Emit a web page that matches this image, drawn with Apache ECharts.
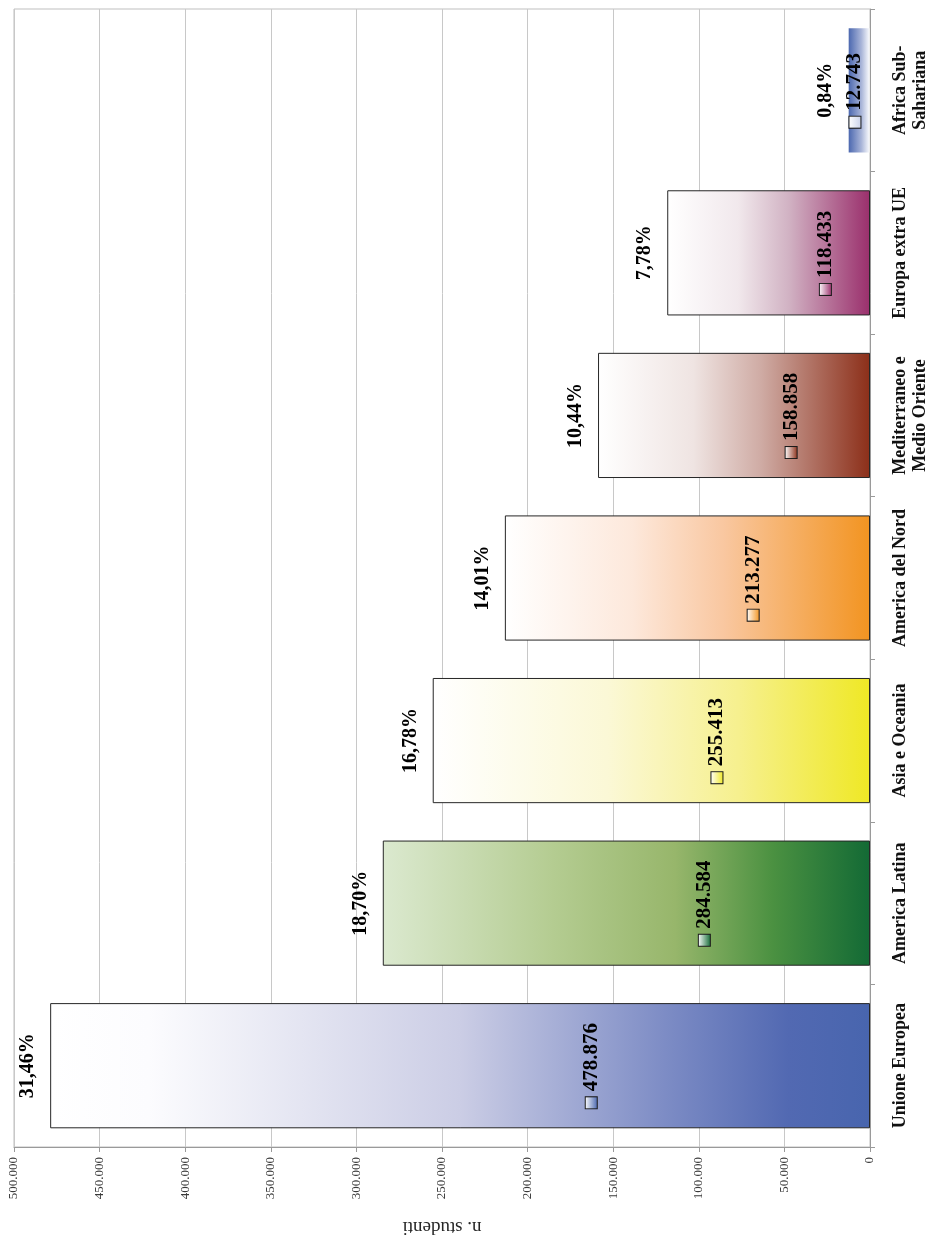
<!DOCTYPE html>
<html>
<head>
<meta charset="utf-8">
<script src="https://cdn.jsdelivr.net/npm/echarts@6/dist/echarts.min.js"></script>
<style>
  html, body { margin: 0; padding: 0; background: #ffffff; }
  #chart { width: 939px; height: 1241px; }
</style>
</head>
<body>
<div id="chart"></div>
<script>
// Regions of origin and number of students
const categories = [
  'Unione Europea',
  'America Latina',
  'Asia e Oceania',
  'America del Nord',
  'Mediterraneo e\nMedio Oriente',
  'Europa extra UE',
  'Africa Sub-\nSahariana'
];
const students = [478876, 284584, 255413, 213277, 158858, 118433, 12743];
const shares = [31.46, 18.70, 16.78, 14.01, 10.44, 7.78, 0.84];

// Value axis range
const axisMin = 0;
const axisMax = 500000;
const axisStep = 50000;

// Gradient fills, from the far end of each bar to its base
const fills = [
  [[0, '#ffffff'], [0.12, '#fcfcfe'], [0.5, '#cbcde5'], [0.75, '#7d8cc5'], [0.9, '#5269b2'], [1, '#4865ae']],
  [[0, '#dbe9cf'], [0.35, '#b4cc91'], [0.6, '#97b66b'], [0.8, '#4b9141'], [1, '#136a35']],
  [[0, '#ffffff'], [0.4, '#fbf8d6'], [0.7, '#f6f08e'], [1, '#efe825']],
  [[0, '#ffffff'], [0.35, '#fde8db'], [0.6, '#f9c7a0'], [1, '#f29421']],
  [[0, '#ffffff'], [0.35, '#efe4e2'], [0.6, '#cfaba4'], [1, '#8c2f19']],
  [[0, '#ffffff'], [0.35, '#f1e8ec'], [0.6, '#d1b2c3'], [1, '#9a2f6c']],
  [[0, '#4865ae'], [0.6, '#a8b4d8'], [1, '#ffffff']]
];
// Where the value label sits along each bar (from its far end)
const keyLabelAt = ['66%', '66%', '65%', '68%', '71%', '78%', '31%'];

const FONT = '"Liberation Serif", "DejaVu Serif", serif';

function thousands(v) {
  return String(Math.round(v)).replace(/\B(?=(\d{3})+(?!\d))/g, '.');
}
function percent(v) {
  return v.toFixed(2).replace('.', ',') + '%';
}
function gradient(stops, x2, y2) {
  return new echarts.graphic.LinearGradient(0, 0, x2, y2,
    stops.map(s => ({ offset: s[0], color: s[1] })));
}

const valueData = students.map((v, i) => ({
  value: v,
  itemStyle: {
    color: gradient(fills[i], 1, 0),
    borderColor: i === students.length - 1 ? 'rgba(0,0,0,0)' : '#262626',
    borderWidth: 1
  },
  label: {
    position: [keyLabelAt[i], '50%'],
    rich: {
      box: {
        width: 11,
        height: 11,
        borderColor: '#1a1a1a',
        borderWidth: 1,
        backgroundColor: gradient(i === students.length - 1
          ? [[0, '#ffffff'], [1, '#c9d1ea']]
          : [[0, '#ffffff'], [1, fills[i][fills[i].length - 1][1]]], 0, 1)
      },
      gap: { width: 6, height: 11 }
    }
  }
}));

const chart = echarts.init(document.getElementById('chart'));
chart.setOption({
  backgroundColor: '#ffffff',
  animation: false,
  grid: {
    left: 14, right: 69, top: 9, bottom: 89,
    show: true, borderColor: '#bfbfbf', borderWidth: 1, backgroundColor: 'transparent'
  },
  xAxis: {
    type: 'value',
    inverse: true,
    position: 'bottom',
    min: axisMin,
    max: axisMax,
    interval: axisStep,
    name: 'n. studenti',
    nameLocation: 'middle',
    nameRotate: 180,
    nameGap: 70,
    nameTextStyle: { fontFamily: FONT, fontSize: 19, color: '#262626' },
    axisLine: { show: true, lineStyle: { color: '#9a9a9a', width: 1 } },
    axisTick: { show: true, length: 5, lineStyle: { color: '#9a9a9a' } },
    axisLabel: {
      rotate: 90,
      margin: 10,
      fontFamily: FONT,
      fontSize: 13,
      color: '#3a3a3a',
      formatter: v => thousands(v)
    },
    splitLine: { show: true, lineStyle: { color: '#c8c8c8', width: 1 } }
  },
  yAxis: {
    type: 'category',
    position: 'right',
    data: categories,
    axisLine: { show: true, lineStyle: { color: '#9a9a9a', width: 1 } },
    axisTick: { show: true, length: 5, lineStyle: { color: '#9a9a9a' } },
    axisLabel: {
      interval: 0,
      hideOverlap: false,
      rotate: 90,
      margin: 20,
      fontFamily: FONT,
      fontSize: 18,
      fontWeight: 'bold',
      lineHeight: 20,
      color: '#111111'
    },
    splitLine: { show: false }
  },
  series: [
    {
      name: 'n. studenti',
      type: 'bar',
      barWidth: '77%',
      barGap: '-100%',
      data: valueData,
      label: {
        show: true,
        rotate: 90,
        align: 'center',
        verticalAlign: 'middle',
        fontFamily: FONT,
        fontSize: 21,
        fontWeight: 'bold',
        color: '#000000',
        formatter: p => '{box|}{gap|}' + thousands(p.value)
      },
      z: 2
    },
    {
      name: 'quota',
      type: 'bar',
      barWidth: '77%',
      barGap: '-100%',
      silent: true,
      data: students,
      itemStyle: { color: 'rgba(0,0,0,0)' },
      label: {
        show: true,
        position: 'left',
        distance: 22,
        rotate: 90,
        align: 'center',
        verticalAlign: 'middle',
        fontFamily: FONT,
        fontSize: 20,
        fontWeight: 'bold',
        color: '#000000',
        formatter: p => percent(shares[p.dataIndex])
      },
      z: 3
    }
  ]
});
</script>
</body>
</html>
